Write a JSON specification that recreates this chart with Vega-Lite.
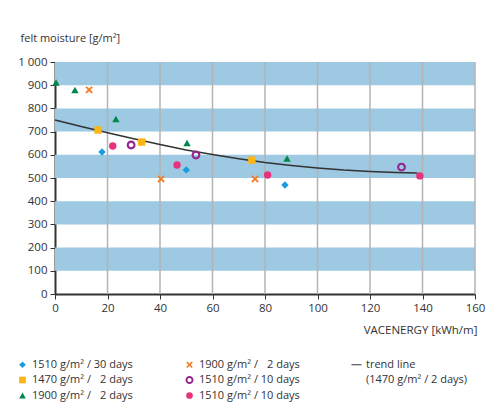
{
  "$schema": "https://vega.github.io/schema/vega-lite/v6.json",
  "width": 420,
  "height": 232,
  "autosize": "none",
  "padding": {"left": 55, "top": 62, "right": 14, "bottom": 120},
  "background": "white",
  "config": {
    "font": "Open Sans",
    "view": {"stroke": null},
    "axis": {"labelFont": "Open Sans", "titleFont": "Open Sans", "labelFontSize": 11.5, "titleFontSize": 11.5, "labelColor": "#333", "titleColor": "#333", "titleFontWeight": "normal", "domainColor": "#333", "domainWidth": 2, "tickColor": "#333", "tickSize": 5, "tickWidth": 1, "labelPadding": 3, "zindex": 1, "labelOverlap": false, "labelFlush": false, "grid": false},
    "legend": {"labelFont": "Open Sans", "labelFontSize": 11, "labelColor": "#333"}
  },
  "datasets": {
    "bands": [
      {"lo": 100, "hi": 200}, {"lo": 300, "hi": 400}, {"lo": 500, "hi": 600}, {"lo": 700, "hi": 800}, {"lo": 900, "hi": 1000}
    ],
    "grid": [{"v": 20}, {"v": 40}, {"v": 60}, {"v": 80}, {"v": 100}, {"v": 120}, {"v": 140}, {"v": 160}],
    "trend": [
      {"e": 0, "m": 750}, {"e": 10, "m": 722}, {"e": 20, "m": 695}, {"e": 30, "m": 669}, {"e": 40, "m": 644},
      {"e": 50, "m": 621}, {"e": 60, "m": 601}, {"e": 70, "m": 583}, {"e": 80, "m": 567}, {"e": 90, "m": 554},
      {"e": 100, "m": 543}, {"e": 110, "m": 534}, {"e": 120, "m": 528}, {"e": 130, "m": 524}, {"e": 138, "m": 522}
    ],
    "points": [
      {"series": "s1", "e": 17.9, "m": 612}, {"series": "s1", "e": 50, "m": 535}, {"series": "s1", "e": 87.6, "m": 470},
      {"series": "s2", "e": 16.4, "m": 707}, {"series": "s2", "e": 33, "m": 655}, {"series": "s2", "e": 75, "m": 577},
      {"series": "s3", "e": 0.4, "m": 912}, {"series": "s3", "e": 7.6, "m": 879}, {"series": "s3", "e": 23.2, "m": 754}, {"series": "s3", "e": 50.3, "m": 651}, {"series": "s3", "e": 88.4, "m": 584},
      {"series": "s4", "e": 13, "m": 880}, {"series": "s4", "e": 40.4, "m": 496}, {"series": "s4", "e": 76.2, "m": 496},
      {"series": "s5", "e": 29, "m": 642}, {"series": "s5", "e": 53.7, "m": 599}, {"series": "s5", "e": 132, "m": 547},
      {"series": "s6", "e": 22, "m": 638}, {"series": "s6", "e": 46.5, "m": 556}, {"series": "s6", "e": 81, "m": 513}, {"series": "s6", "e": 139, "m": 509}
    ]
  },
  "layer": [
    {
      "data": {"name": "bands"},
      "mark": {"type": "rect", "color": "#9dc9e2"},
      "encoding": {
        "y": {"field": "lo", "type": "quantitative", "scale": {"domain": [0, 1000], "nice": false}, "axis": {"values": [0,100,200,300,400,500,600,700,800,900,1000], "tickCount": 11, "labelExpr": "datum.value == 1000 ? '1 000' : datum.label", "title": "felt moisture [g/m²]", "titleFontSize": 11, "titleAngle": 0, "titleAlign": "left", "titleBaseline": "alphabetic", "titleX": -35, "titleY": -21}},
        "y2": {"field": "hi"},
        "x": {"datum": 0, "type": "quantitative", "scale": {"domain": [0, 160], "nice": false}, "axis": {"values": [0,20,40,60,80,100,120,140,160], "title": "VACENERGY [kWh/m]", "titleAlign": "right", "titleBaseline": "alphabetic", "titleX": 422, "titleY": 39}},
        "x2": {"datum": 160}
      }
    },
    {
      "data": {"name": "grid"},
      "mark": {"type": "rule", "color": "#b3b3b3", "strokeWidth": 1.5},
      "encoding": {"x": {"field": "v", "type": "quantitative", "axis": {"values": [0,20,40,60,80,100,120,140,160], "title": "VACENERGY [kWh/m]", "titleAlign": "right", "titleBaseline": "alphabetic", "titleX": 422, "titleY": 39}}}
    },
    {
      "data": {"name": "trend"},
      "mark": {"type": "line", "color": "#333", "strokeWidth": 1.5},
      "encoding": {
        "x": {"field": "e", "type": "quantitative", "axis": {"values": [0,20,40,60,80,100,120,140,160], "title": "VACENERGY [kWh/m]", "titleAlign": "right", "titleBaseline": "alphabetic", "titleX": 422, "titleY": 39}},
        "y": {"field": "m", "type": "quantitative", "axis": {"values": [0,100,200,300,400,500,600,700,800,900,1000], "tickCount": 11, "labelExpr": "datum.value == 1000 ? '1 000' : datum.label", "title": "felt moisture [g/m²]", "titleFontSize": 11, "titleAngle": 0, "titleAlign": "left", "titleBaseline": "alphabetic", "titleX": -35, "titleY": -21}}
      }
    },
    {
      "data": {"name": "points"},
      "mark": {"type": "point", "filled": true, "opacity": 1, "strokeWidth": 0, "size": 55},
      "encoding": {
        "x": {"field": "e", "type": "quantitative", "axis": {"values": [0,20,40,60,80,100,120,140,160], "title": "VACENERGY [kWh/m]", "titleAlign": "right", "titleBaseline": "alphabetic", "titleX": 422, "titleY": 39}},
        "y": {"field": "m", "type": "quantitative", "axis": {"values": [0,100,200,300,400,500,600,700,800,900,1000], "tickCount": 11, "labelExpr": "datum.value == 1000 ? '1 000' : datum.label", "title": "felt moisture [g/m²]", "titleFontSize": 11, "titleAngle": 0, "titleAlign": "left", "titleBaseline": "alphabetic", "titleX": -35, "titleY": -21}},
        "shape": {"field": "series", "type": "nominal",
          "scale": {"domain": ["s1", "s2", "s3", "s4", "s5", "s6", "trend", "note"],
            "range": ["diamond",
              "square",
              "triangle-up",
              "M-1,-0.65L-0.65,-1L0,-0.35L0.65,-1L1,-0.65L0.35,0L1,0.65L0.65,1L0,0.35L-0.65,1L-1,0.65L-0.35,0Z",
              "M0,-1.2A1.2,1.2 0 1,1 0,1.2A1.2,1.2 0 1,1 0,-1.2Z M0,-0.62A0.62,0.62 0 1,0 0,0.62A0.62,0.62 0 1,0 0,-0.62Z",
              "circle",
              "M-1.5,-0.15H1.5V0.15H-1.5Z",
              "M0,0"]},
          "legend": {"title": null, "orient": "none", "legendX": -38, "legendY": 297, "columns": 3, "columnPadding": 51, "rowPadding": 3.5, "symbolSize": 45, "symbolStrokeWidth": 0, "labelOffset": 4,
            "labelExpr": "datum.label == 's1' ? '1510 g/m² / 30 days' : datum.label == 's2' ? '1470 g/m² / \u20072 days' : datum.label == 's3' ? '1900 g/m² / \u20072 days' : datum.label == 's4' ? '1900 g/m² / \u20072 days' : datum.label == 's5' ? '1510 g/m² / 10 days' : datum.label == 's6' ? '1510 g/m² / 10 days' : datum.label == 'trend' ? 'trend line' : '(1470 g/m² / 2 days)'"}},
        "fill": {"field": "series", "type": "nominal",
          "scale": {"domain": ["s1", "s2", "s3", "s4", "s5", "s6", "trend", "note"],
            "range": ["#1a9ce0", "#fbb616", "#00884a", "#f47c2a", "#93278f", "#e5337c", "#333333", "transparent"]},
          "legend": {"title": null, "orient": "none", "legendX": -38, "legendY": 297, "columns": 3, "columnPadding": 51, "rowPadding": 3.5, "symbolSize": 45, "symbolStrokeWidth": 0, "labelOffset": 4,
            "labelExpr": "datum.label == 's1' ? '1510 g/m² / 30 days' : datum.label == 's2' ? '1470 g/m² / \u20072 days' : datum.label == 's3' ? '1900 g/m² / \u20072 days' : datum.label == 's4' ? '1900 g/m² / \u20072 days' : datum.label == 's5' ? '1510 g/m² / 10 days' : datum.label == 's6' ? '1510 g/m² / 10 days' : datum.label == 'trend' ? 'trend line' : '(1470 g/m² / 2 days)'"}}
      }
    }
  ]
}
